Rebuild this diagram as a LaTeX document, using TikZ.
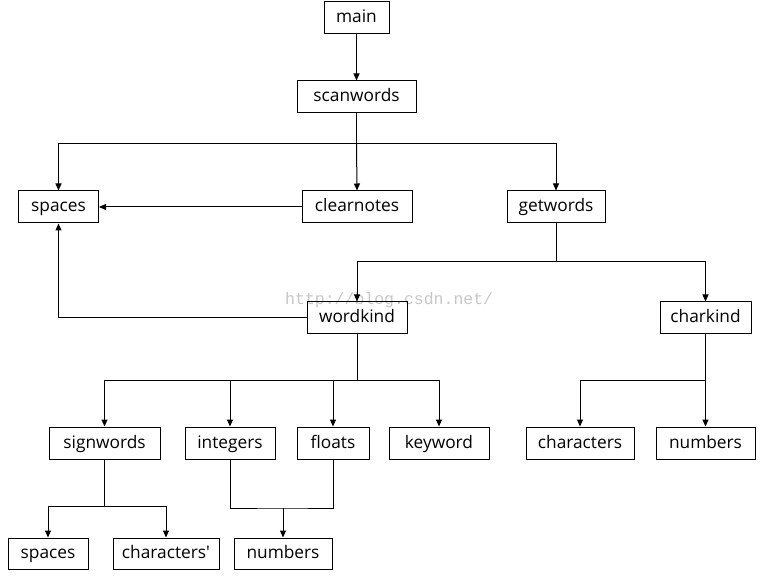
\documentclass[tikz,border=0pt]{standalone}
\usepackage{fontspec}
\setmainfont{Open Sans}
\newfontfamily\wmfont{Liberation Mono}
\usetikzlibrary{arrows.meta}
\begin{document}
\begin{tikzpicture}[x=1pt,y=-1pt,
  box/.style={draw=black,line width=1pt,minimum height=32,inner sep=0pt,text height=14pt,text depth=4pt,font=\fontsize{17.3}{19}\selectfont},
  conn/.style={line width=1pt},
  arr/.style={conn,-{Triangle[length=7pt,width=6pt]}}]
\useasboundingbox (0,0) rectangle (763,577);
\node[font=\wmfont\fontsize{16.5}{18}\selectfont,text=black!22,anchor=base west,inner sep=0pt] (wm) at (285,305) {http://blog.csdn.net/};
\node[box,minimum width=65] (main) at (356.5,18) {main};
\node[box,minimum width=119] (scanwords) at (356.5,97) {scanwords};
\node[box,minimum width=80] (spaces) at (58.5,207) {spaces};
\node[box,minimum width=110] (clearnotes) at (357,207) {clearnotes};
\node[box,minimum width=98] (getwords) at (556,207) {getwords};
\node[box,minimum width=100,minimum height=31] (wordkind) at (357,317.5) {wordkind};
\node[box,minimum width=91,minimum height=31] (charkind) at (705.5,317.5) {charkind};
\node[box,minimum width=111] (signwords) at (104.5,443) {signwords};
\node[box,minimum width=90] (integers) at (230,443) {integers};
\node[box,minimum width=72] (floats) at (333,443) {floats};
\node[box,minimum width=100] (keyword) at (439,443) {keyword};
\node[box,minimum width=108] (characters) at (580,443) {characters};
\node[box,minimum width=99] (numbers) at (705.5,443) {numbers};
\node[box,minimum width=80,minimum height=31] (spacesb) at (48,553.5) {spaces};
\node[box,minimum width=106,minimum height=31] (charactersb) at (166,553.5) {characters\textquotesingle};
\node[box,minimum width=98,minimum height=31] (numbersb) at (283,553.5) {numbers};
% connectors
\draw[arr] (main) -- (scanwords);
\coordinate (b1) at (356.5,144);
\draw[conn] (scanwords.south) -- (b1);
\draw[arr] (b1) -| (spaces.north);
\draw[arr] (b1) -- (clearnotes.north);
\draw[arr] (b1) -| (getwords.north);
\draw[arr] (clearnotes.west) -- (spaces.east);
\coordinate (b2) at (556,262);
\draw[conn] (getwords.south) -- (b2);
\draw[arr] (b2) -| (wordkind.north);
\draw[arr] (b2) -| (charkind.north);
\draw[arr] (wordkind.west) -| (spaces.south);
\coordinate (b3) at (357,380);
\draw[conn] (wordkind.south) -- (b3);
\draw[arr] (b3) -| (signwords.north);
\draw[arr] (b3) -| (integers.north);
\draw[arr] (b3) -| (floats.north);
\draw[arr] (b3) -| (keyword.north);
\coordinate (b4) at (705.5,380);
\draw[conn] (charkind.south) -- (b4);
\draw[arr] (b4) -| (characters.north);
\draw[arr] (b4) -- (numbers.north);
\coordinate (b5) at (104.5,506);
\draw[conn] (signwords.south) -- (b5);
\draw[arr] (b5) -| (spacesb.north);
\draw[arr] (b5) -| (charactersb.north);
\coordinate (b6) at (283,508);
\draw[conn] (integers.south) |- (b6) -| (floats.south);
\draw[arr] (b6) -- (numbersb.north);
\end{tikzpicture}
\end{document}
